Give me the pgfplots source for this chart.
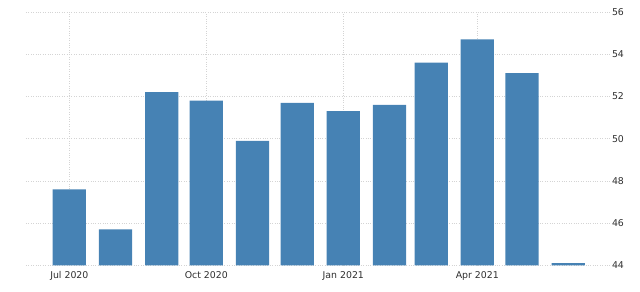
\documentclass[border=0pt]{standalone}
\usepackage{pgfplots}
\pgfplotsset{compat=1.18}
\usepackage{fontspec}
\setmainfont{DejaVu Sans}
\definecolor{barblue}{HTML}{4682B4}
\definecolor{gridc}{HTML}{D4D4D4}
\definecolor{txt}{HTML}{2E2E2E}
\begin{document}
\begin{tikzpicture}
\begin{axis}[
  name=ax,
  scale only axis,
  width=584bp, height=253.3bp,
  xmin=-29.1, xmax=363.1,
  ymin=44, ymax=56,
  ytick={44,46,...,56},
  xtick={0,92,184,274},
  xticklabels={Jul 2020,Oct 2020,Jan 2021,Apr 2021},
  axis line style={draw=none},
  major tick length=0pt,
  grid=major,
  major grid style={gridc, dotted, line width=0.6pt},
  yticklabel pos=right,
  /pgf/number format/assume math mode=true,
  tick label style={font=\fontsize{9.4}{11}\selectfont, text=txt},
  yticklabel style={anchor=west, xshift=-1.5bp},
  xticklabel style={yshift=-2.5bp},
  ybar, bar width=33.3bp,
  clip=true,
]
\addplot[fill=barblue, draw=none] coordinates {
  (0,47.6) (31,45.7) (62,52.2) (92,51.8) (123,49.9) (153,51.7)
  (184,51.3) (215,51.6) (243,53.6) (274,54.7) (304,53.1) (335,44.1)
};
\end{axis}
\pgfresetboundingbox
\useasboundingbox ([xshift=-26bp,yshift=-26.7bp]ax.south west) rectangle ([xshift=30bp,yshift=12bp]ax.north east);
\end{tikzpicture}
\end{document}
